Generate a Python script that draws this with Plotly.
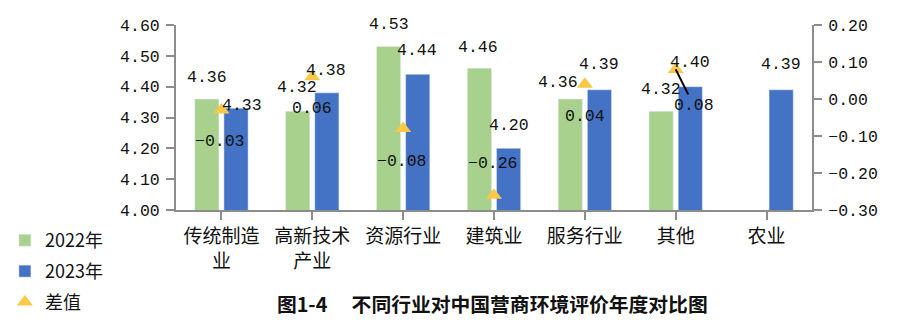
import plotly.graph_objects as go

# 行业分类与两年评分
categories = ["传统制造业", "高新技术产业", "资源行业", "建筑业", "服务行业", "其他", "农业"]
tick_labels = ["传统制造<br>业", "高新技术<br>产业", "资源行业", "建筑业", "服务行业", "其他", "农业"]
score_2022 = [4.36, 4.32, 4.53, 4.46, 4.36, 4.32, None]
score_2023 = [4.33, 4.38, 4.44, 4.20, 4.39, 4.40, 4.39]
score_diff = [-0.03, 0.06, -0.08, -0.26, 0.04, 0.08, None]

# 样式
GREEN = "#A9D18E"
BLUE = "#4472C4"
GOLD = "#F9C846"
AXIS = "#8C8C8C"
NUM_FONT = "Liberation Mono"
CJK_FONT = "Noto Sans CJK SC"

BAR_W = 0.266          # 单根柱宽（类别单位）
BAR_GAP = 0.055        # 同组两柱之间的间隙
off_22 = -(BAR_GAP / 2 + BAR_W)
off_23 = BAR_GAP / 2
ctr_22 = off_22 + BAR_W / 2
ctr_23 = off_23 + BAR_W / 2

# 数据标签相对锚点的像素偏移 (dx, dy)，dy 向上为正
shift_22 = [(0, 22), (-1, 24), (0, 22), (-1, 21), (-12, 17), (0, 22), (0, 0)]
shift_23 = [(6, 3), (-1, 22), (-1, 24), (0, 23), (0, 25), (0, 24), (0, 25)]
shift_diff = [(-1, -31), (0, -32), (-1, -33), (-1, 32), (0, -32), (18, -36), (0, 0)]
leader_idx = 5         # 该差值标签使用引导线

idx = list(range(len(categories)))

fig = go.Figure()
fig.add_trace(go.Bar(
    name="2022年", x=idx, y=score_2022, marker_color=GREEN,
    width=BAR_W, offset=off_22, legendgroup="a",
))
fig.add_trace(go.Bar(
    name="2023年", x=idx, y=score_2023, marker_color=BLUE,
    width=BAR_W, offset=off_23, legendgroup="b",
))
fig.add_trace(go.Scatter(
    name="差值", x=idx, y=score_diff, yaxis="y2", mode="markers",
    marker=dict(symbol="triangle-up", size=14, color=GOLD),
    legendgroup="c",
))

annotations = []
label_font = dict(family=NUM_FONT, size=16.5, color="#111111")
for i in idx:
    if score_2022[i] is not None:
        dx, dy = shift_22[i]
        annotations.append(dict(
            x=i + ctr_22, y=score_2022[i], xref="x", yref="y",
            text=f"{score_2022[i]:.2f}", showarrow=False,
            xshift=dx, yshift=dy, font=label_font,
        ))
    if score_2023[i] is not None:
        dx, dy = shift_23[i]
        annotations.append(dict(
            x=i + ctr_23, y=score_2023[i], xref="x", yref="y",
            text=f"{score_2023[i]:.2f}", showarrow=False,
            xshift=dx, yshift=dy, font=label_font,
        ))
    if score_diff[i] is not None:
        dx, dy = shift_diff[i]
        txt = f"{score_diff[i]:.2f}".replace("-", "\u2212")
        if i == leader_idx:
            annotations.append(dict(
                x=i, y=score_diff[i], xref="x", yref="y2",
                text=txt, showarrow=True, arrowhead=0, arrowwidth=2,
                arrowcolor="#000000", ax=dx, ay=-dy, standoff=0,
                font=label_font,
            ))
        else:
            annotations.append(dict(
                x=i, y=score_diff[i], xref="x", yref="y2",
                text=txt, showarrow=False,
                xshift=dx, yshift=dy, font=label_font,
            ))

tick_font = dict(family=NUM_FONT, size=16.5, color="#111111")

fig.update_layout(
    width=900, height=328,
    margin=dict(l=176, r=88, t=25, b=118, autoexpand=False),
    paper_bgcolor="white", plot_bgcolor="white",
    barmode="overlay",
    showlegend=True,
    legend=dict(
        x=-0.269, y=-0.065, xanchor="left", yanchor="top",
        traceorder="grouped", tracegroupgap=4.5,
        font=dict(family=CJK_FONT, size=18, color="#111111"),
        bgcolor="rgba(0,0,0,0)",
    ),
    title=dict(
        text="<b>图1-4\u3000 不同行业对中国营商环境评价年度对比图</b>",
        x=0.547, xanchor="center", y=0.07, yanchor="middle",
        font=dict(family=CJK_FONT, size=19.8, color="#111111"),
    ),
    xaxis=dict(
        range=[-0.5, 6.5], tickmode="array", tickvals=idx, ticktext=tick_labels,
        showline=True, linecolor=AXIS, linewidth=2,
        ticks="outside", ticklen=8, tickcolor=AXIS, tickwidth=2,
        tickson="boundaries", showgrid=False, zeroline=False,
        tickfont=dict(family=CJK_FONT, size=19, color="#111111"),
    ),
    yaxis=dict(
        range=[4.0, 4.6], dtick=0.1, tick0=4.0, tickformat=".2f",
        showline=True, linecolor=AXIS, linewidth=2,
        ticks="outside", ticklen=8, tickcolor=AXIS, tickwidth=2,
        ticklabelstandoff=3,
        showgrid=False, zeroline=False, tickfont=tick_font,
    ),
    yaxis2=dict(
        range=[-0.3, 0.2], dtick=0.1, tick0=0, tickformat=".2f",
        overlaying="y", side="right",
        showline=True, linecolor=AXIS, linewidth=2,
        ticks="outside", ticklen=8, tickcolor=AXIS, tickwidth=2,
        ticklabelstandoff=3,
        showgrid=False, zeroline=False, tickfont=tick_font,
    ),
    annotations=annotations,
)

fig.write_html("out.html")
